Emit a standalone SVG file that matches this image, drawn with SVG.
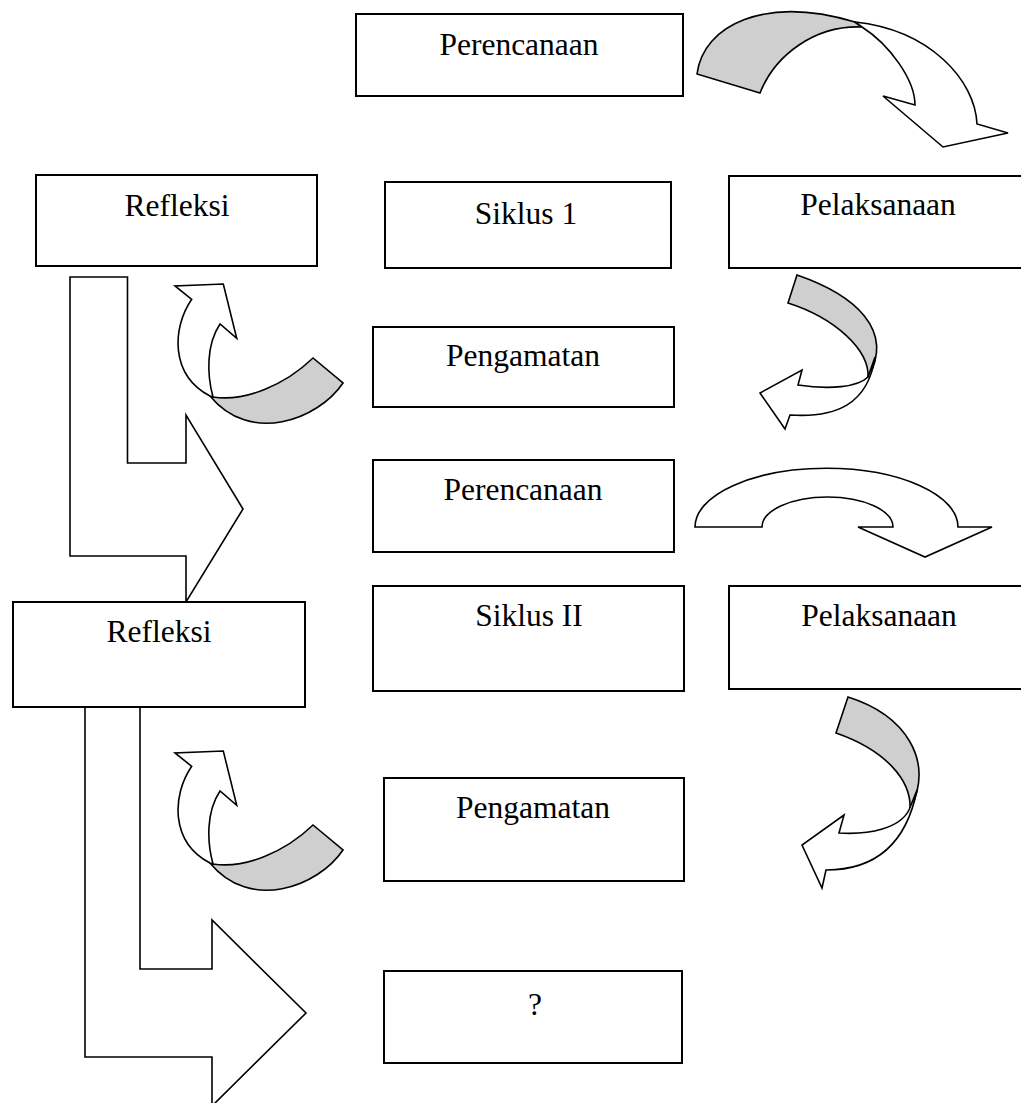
<svg xmlns="http://www.w3.org/2000/svg" width="1021" height="1103" viewBox="0 0 1021 1103">
<style>
.box{fill:#fff;stroke:#000;stroke-width:2}
.lbl{font-family:"Liberation Serif","Times New Roman",serif;font-size:31.5px;fill:#000;text-anchor:middle}
.w{fill:#fff;stroke:#000;stroke-width:1.6;stroke-linejoin:miter}
.g{fill:#cfcfcf;stroke:#000;stroke-width:1.6}
</style>
<rect width="1021" height="1103" fill="#fff"/>
<g id="connectors">
  <!-- L arrow 1 -->
  <path class="w" d="M70,277 L127.5,277 L127.5,463 L186,463 L186,415 L243,509 L186,602 L186,556 L70,556 Z"/>
  <!-- L arrow 2 -->
  <path class="w" d="M85,706 L140,706 L140,969 L212,969 L212,920 L306,1013 L212,1106 L212,1057 L85,1057 Z"/>
  <!-- A: Perencanaan -> Pelaksanaan -->
  <g id="arrowA">
    <path class="g" d="M697,74 C703,25 765,-5 855,22 L862,27 C815,25 775,55 760,93 Z"/>
    <path class="w" d="M862,27 C890,45 915,80 915,105 L883,96 L943,147 L1008,133 L977,124 C975,80 930,30 855,22 Z"/>
  </g>
  <!-- C: Pelaksanaan -> Pengamatan -->
  <g id="arrowC">
    <path class="g" d="M797,275 C855,295 895,330 868,378 C870,350 835,318 788,303 Z"/>
    <path class="w" d="M868,377 C858,387 830,390 798,385 L802,370 L760,393 L785,429 L790,415 C835,418 868,405 875,357 Z"/>
  </g>
  <!-- B: Pengamatan -> Refleksi -->
  <g id="arrowB">
    <path class="g" d="M213,397 C245,402 285,385 313,358 L343,383 C318,420 250,445 210,396 Z"/>
    <path class="w" d="M213,397 C207,375 206,345 220,324 L236.7,338.3 L223.3,284 L175,286 L191.7,299.3 C172,328 170,375 210,396 Z"/>
  </g>
  <!-- D: Perencanaan II -> Pelaksanaan II -->
  <path id="arrowD" class="w" d="M695,527 A131.5,58.7 0 0 1 958,527 L992,527 L925,557 L858,527 L893,527 A65.5,30 0 0 0 762,527 Z"/>
  <!-- F: Pelaksanaan II -> Pengamatan II -->
  <g id="arrowF">
    <path class="g" d="M848,697 C905,715 935,760 910,810 C912,780 885,750 836,733 Z"/>
    <path class="w" d="M909,810 C900,828 870,835 839,833 L844,815 L802,845 L822,888 L826,870 C870,870 905,850 917,790 Z"/>
  </g>
  <!-- E: Pengamatan II -> Refleksi II -->
  <g id="arrowE" transform="translate(0,467)">
    <path class="g" d="M213,397 C245,402 285,385 313,358 L343,383 C318,420 250,445 210,396 Z"/>
    <path class="w" d="M213,397 C207,375 206,345 220,324 L236.7,338.3 L223.3,284 L175,286 L191.7,299.3 C172,328 170,375 210,396 Z"/>
  </g>
</g>
<g id="perencanaan1"><rect class="box" x="356" y="14" width="327" height="82"/><text class="lbl" x="519" y="55">Perencanaan</text></g>
<g id="refleksi1"><rect class="box" x="36" y="175" width="281" height="91"/><text class="lbl" x="177" y="216">Refleksi</text></g>
<g id="siklus1"><rect class="box" x="385" y="182" width="286" height="86"/><text class="lbl" x="526" y="224">Siklus 1</text></g>
<g id="pelaksanaan1"><rect class="box" x="729" y="176" width="300" height="92"/><text class="lbl" x="878" y="215">Pelaksanaan</text></g>
<g id="pengamatan1"><rect class="box" x="373" y="327" width="301" height="80"/><text class="lbl" x="523" y="366">Pengamatan</text></g>
<g id="perencanaan2"><rect class="box" x="373" y="460" width="301" height="92"/><text class="lbl" x="523" y="500">Perencanaan</text></g>
<g id="refleksi2"><rect class="box" x="13" y="602" width="292" height="105"/><text class="lbl" x="159" y="642">Refleksi</text></g>
<g id="siklus2"><rect class="box" x="373" y="586" width="311" height="105"/><text class="lbl" x="529" y="626">Siklus II</text></g>
<g id="pelaksanaan2"><rect class="box" x="729" y="586" width="300" height="103"/><text class="lbl" x="879" y="626">Pelaksanaan</text></g>
<g id="pengamatan2"><rect class="box" x="384" y="778" width="300" height="103"/><text class="lbl" x="533" y="818">Pengamatan</text></g>
<g id="unknown"><rect class="box" x="384" y="971" width="298" height="92"/><text class="lbl" x="535" y="1015">?</text></g>
</svg>
